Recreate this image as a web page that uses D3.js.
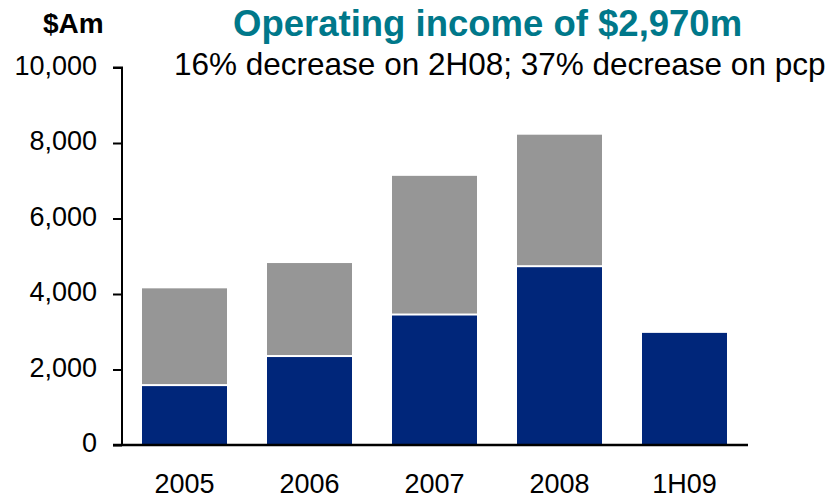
<!DOCTYPE html>
<html>
<head>
<meta charset="utf-8">
<script src="https://cdn.jsdelivr.net/npm/d3@7"></script>
<style>
  body { margin: 0; background: white; }
  text { font-family: Arial, "Liberation Sans", sans-serif; }
</style>
</head>
<body>
<svg width="833" height="501"></svg>
<script>
// values in $Am
let periods = ["2005", "2006", "2007", "2008", "1H09"];
let first_half = [1560, 2330, 3430, 4710, 2970];
let second_half = [2590, 2490, 3700, 3510, 0];
let y_ticks = [0, 2000, 4000, 6000, 8000, 10000];

let navy = "#00267a";
let grey = "#969696";

let svg = d3.select("svg");

let x = d3.scaleBand()
    .domain(periods)
    .range([122, 747])
    .paddingInner(0.32)
    .paddingOuter(0.16);

let y = d3.scaleLinear()
    .domain([0, 10000])
    .range([445, 67.5]);

// stacked bars: first half at the bottom, second half on top
let stack = d3.stack().keys(["h1", "h2"]);
let rows = periods.map((p, i) => ({ period: p, h1: first_half[i], h2: second_half[i] }));
let layers = stack(rows);
let colours = [navy, grey];

layers.forEach((layer, k) => {
    svg.append("g")
        .selectAll("rect")
        .data(layer.filter(d => d[1] > d[0]))
        .join("rect")
        .attr("x", d => x(d.data.period))
        .attr("width", x.bandwidth())
        .attr("y", d => y(d[1]))
        .attr("height", d => y(d[0]) - y(d[1]) - (k === 1 ? 2 : 0))
        .attr("fill", colours[k]);
});

// y axis
let yAxis = d3.axisLeft(y)
    .tickValues(y_ticks)
    .tickSize(9)
    .tickPadding(16)
    .tickFormat(d3.format(","));

let gy = svg.append("g")
    .attr("transform", "translate(122,0)")
    .call(yAxis);
gy.attr("font-size", null).attr("font-family", null);
gy.select(".domain").attr("stroke", "black").attr("stroke-width", 2)
    .attr("d", "M-9,67.5H0V445");
gy.selectAll(".tick line").attr("stroke", "black").attr("stroke-width", 2);
gy.selectAll(".tick text")
    .attr("font-size", 27)
    .attr("fill", "black")
    .attr("dy", "0.25em");

// x axis baseline
svg.append("line")
    .attr("x1", 113).attr("x2", 748)
    .attr("y1", y(0)).attr("y2", y(0))
    .attr("stroke", "black")
    .attr("stroke-width", 2.5);

svg.append("g")
    .selectAll("text")
    .data(periods)
    .join("text")
    .attr("x", d => x(d) + x.bandwidth() / 2)
    .attr("y", 493)
    .attr("text-anchor", "middle")
    .attr("font-size", 27)
    .text(d => d);

// titles
svg.append("text")
    .attr("x", 43).attr("y", 33)
    .attr("font-size", 28)
    .attr("font-weight", "bold")
    .text("$Am");

svg.append("text")
    .attr("x", 233).attr("y", 36)
    .attr("font-size", 36.5)
    .attr("font-weight", "bold")
    .attr("fill", "#00788a")
    .text("Operating income of $2,970m");

svg.append("text")
    .attr("x", 174).attr("y", 75)
    .attr("font-size", 31.5)
    .text("16% decrease on 2H08; 37% decrease on pcp");
</script>
</body>
</html>
